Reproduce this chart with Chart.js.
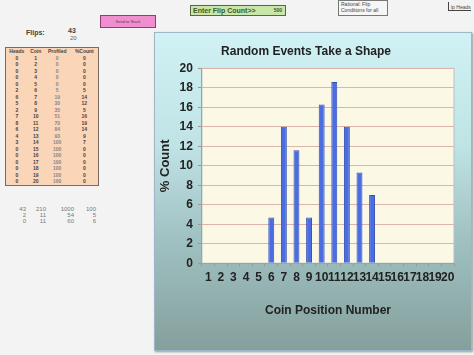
<!DOCTYPE html>
<html>
<head>
<meta charset="utf-8">
<script src="https://cdn.jsdelivr.net/npm/chart.js@4.4.1/dist/chart.umd.min.js"></script>
<style>
  html, body { margin: 0; padding: 0; }
  body { width: 474px; height: 355px; background: #f3f3f3; position: relative; overflow: hidden;
         font-family: "Liberation Sans", Arial, sans-serif; }
  .abs { position: absolute; }
  #chartBox { left: 154px; top: 32px; width: 316px; height: 317px; border: 1px solid #9fb6c9;
              background: linear-gradient(#d0f2f5 0%, #c0e3e6 35%, #a0c1c2 65%, #84a09d 100%);
              box-shadow: 1px 1px 2px #999; }
  #table { left: 5px; top: 47px; width: 92px; height: 137px; background: #fbd5b8;
           border: 1px solid #7a6a60; font-size: 5px; font-weight: bold; color: #444; }
  #table table { border-collapse: collapse; width: 100%; }
  #table td { text-align: center; height: 6.5px; line-height: 6.5px; padding: 0; }
  .tiny { font-size: 6px; color: #777; }
</style>
</head>
<body>
<div class="abs" style="left:100px;top:15px;width:54px;height:11px;background:#f08fd0;border:1px solid #8a4070;font-size:4px;line-height:11px;text-align:center;color:#603050">Send to Stack</div>
<div class="abs" style="left:190px;top:5px;width:92px;height:9px;background:#c8e6a8;border:1px solid #556b3a;font-size:7px;line-height:9px;font-weight:bold;color:#3b5a2a;padding-left:2px">Enter Flip Count&gt;&gt; <span style="float:right;padding-right:3px;font-size:5px">500</span></div>
<div class="abs" style="left:338px;top:0px;width:46px;height:14px;background:#f6f6f6;border:1px solid #777;font-size:5px;color:#444;padding-left:2px">Rational: Flip<br>Conditions for all</div>
<div class="abs" style="left:448px;top:2px;font-size:5px;color:#444;border-left:1px solid #444;border-bottom:1px solid #444;padding:2px 0 0 2px">ip Heads</div>
<div class="abs" style="left:26px;top:29px;font-size:7px;font-weight:bold;color:#444">Flips:</div>
<div class="abs" style="left:68px;top:27px;font-size:7px;font-weight:bold;color:#444">43</div>
<div class="abs" style="left:70px;top:35px;font-size:6px;color:#666">20</div>
<div id="table" class="abs"><table id="tbl"></table></div>
<div class="abs tiny" style="left:14px;top:206px;line-height:6px;text-align:right;width:12px">43<br>2<br>0</div>
<div class="abs tiny" style="left:36px;top:206px;line-height:6px;text-align:right;width:10px">210<br>11<br>11</div>
<div class="abs tiny" style="left:60px;top:206px;line-height:6px;text-align:right;width:14px">1000<br>54<br>60</div>
<div class="abs tiny" style="left:84px;top:206px;line-height:6px;text-align:right;width:12px">100<br>5<br>6</div>

<div id="chartBox" class="abs"><canvas id="chart"></canvas></div>

<script>
// chart data
const coinPositions = ["1","2","3","4","5","6","7","8","9","10","11","12","13","14","15","16","17","18","19","20"];
const percentCount = [0, 0, 0, 0, 0, 4.7, 14, 11.6, 4.7, 16.3, 18.6, 14, 9.3, 7, 0, 0, 0, 0, 0, 0];
const yTicks = [0, 2, 4, 6, 8, 10, 12, 14, 16, 18, 20];

// spreadsheet table next to the chart
const heads = [0, 0, 0, 0, 0, 2, 6, 5, 2, 7, 8, 6, 4, 3, 0, 0, 0, 0, 0, 0];
const profiled = [0, 0, 0, 0, 0, 5, 19, 30, 35, 51, 70, 84, 93, 100, 100, 100, 100, 100, 100, 100];
const pctRounded = [0, 0, 0, 0, 0, 5, 14, 12, 5, 16, 19, 14, 9, 7, 0, 0, 0, 0, 0, 0];

let rows = '<tr><td>Heads</td><td>Coin</td><td>Profiled</td><td>%Count</td></tr>';
for (let i = 0; i < coinPositions.length; i++) {
    rows += '<tr><td>' + heads[i] + '</td><td>' + coinPositions[i] + '</td><td style="color:#888">' +
        profiled[i] + '</td><td>' + pctRounded[i] + '</td></tr>';
}
document.getElementById('tbl').innerHTML = rows;

// cream plot area background
const plotBg = {
    id: 'plotBg',
    beforeDraw(chart) {
        const a = chart.chartArea, c = chart.ctx;
        c.save();
        c.fillStyle = '#fbf8e5';
        c.fillRect(a.left, a.top, a.right - a.left, a.bottom - a.top);
        c.strokeStyle = '#b5c2c2';
        c.lineWidth = 1;
        c.strokeRect(a.left, a.top, a.right - a.left, a.bottom - a.top);
        c.restore();
    }
};

const ctx = document.getElementById('chart').getContext('2d');
new Chart(ctx, {
    type: 'bar',
    data: {
        labels: coinPositions,
        datasets: [{
            label: '% Count',
            data: percentCount,
            backgroundColor: '#4a6de2',
            borderColor: '#3550b5',
            borderWidth: 1,
            barPercentage: 0.47,
            categoryPercentage: 1
        }]
    },
    options: {
        responsive: true,
        maintainAspectRatio: false,
        animation: false,
        layout: { padding: { left: 3, right: 17, top: 0, bottom: 28 } },
        plugins: {
            legend: { display: false },
            tooltip: { enabled: false },
            title: {
                display: true,
                text: 'Random Events Take a Shape',
                color: '#222',
                font: { family: 'Liberation Sans', size: 12, weight: 'bold' },
                padding: { top: 11, bottom: 10 }
            }
        },
        scales: {
            y: {
                min: 0,
                max: 20,
                afterBuildTicks(axis) { axis.ticks = yTicks.map(v => ({ value: v })); },
                ticks: { color: '#222', font: { family: 'Liberation Sans', size: 12, weight: 'bold' }, padding: 5 },
                grid: { color: '#dbb6a8', tickLength: 4, tickColor: '#999' },
                border: { color: '#9aa5a5' },
                title: {
                    display: true,
                    text: '% Count',
                    color: '#222',
                    font: { family: 'Liberation Sans', size: 13, weight: 'bold' },
                    padding: { top: 0, bottom: 1 }
                }
            },
            x: {
                ticks: { color: '#222', autoSkip: false, maxRotation: 0, font: { family: 'Liberation Sans', size: 12, weight: 'bold' }, padding: 4 },
                grid: { drawOnChartArea: false, tickLength: 3, color: '#999' },
                border: { color: '#9aa5a5' },
                title: {
                    display: true,
                    text: 'Coin Position Number',
                    color: '#222',
                    font: { family: 'Liberation Sans', size: 12, weight: 'bold' },
                    padding: { top: 15 }
                }
            }
        }
    },
    plugins: [plotBg]
});
</script>
</body>
</html>
